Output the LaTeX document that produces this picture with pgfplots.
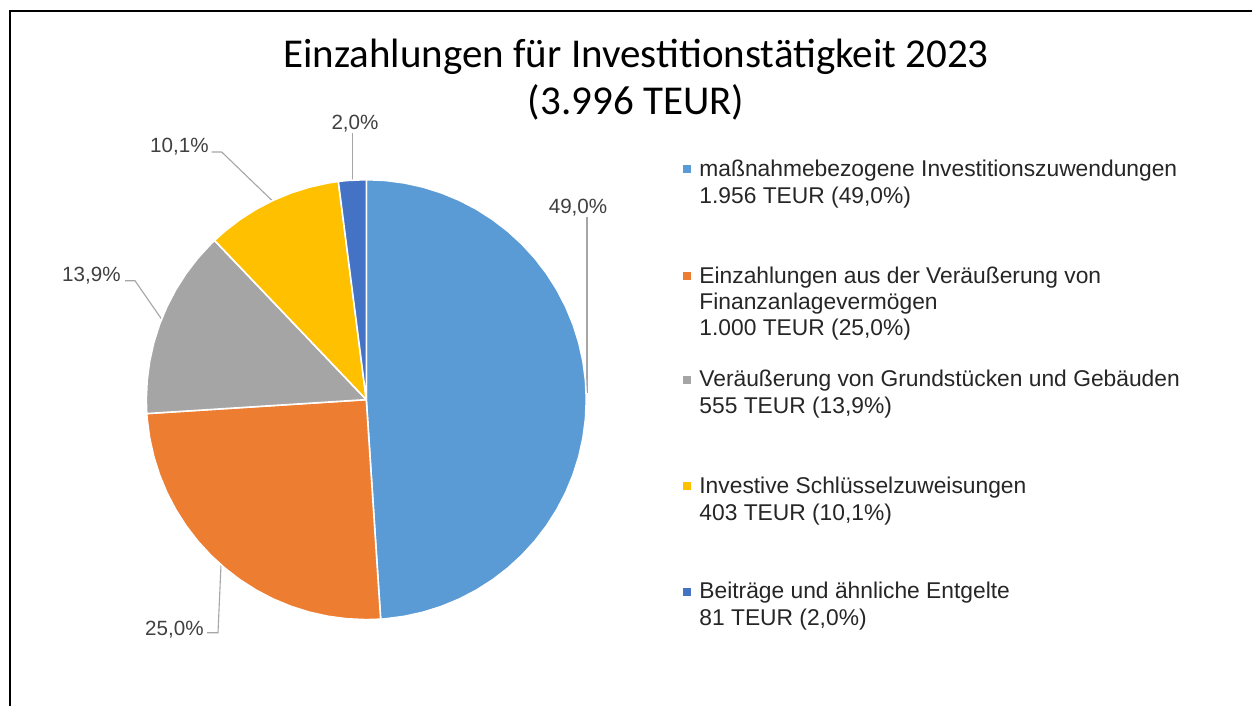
\documentclass[border=0pt]{standalone}
\usepackage{fontspec}
\setmainfont{Liberation Sans}
\newfontfamily\titlefont{Carlito}
\usepackage{pgfplots}
\pgfplotsset{compat=1.18}
\usepgfplotslibrary{polar}

\definecolor{cBlue}{HTML}{5B9BD5}
\definecolor{cOrange}{HTML}{ED7D31}
\definecolor{cGray}{HTML}{A5A5A5}
\definecolor{cYellow}{HTML}{FFC000}
\definecolor{cDark}{HTML}{4472C4}
\definecolor{cLabel}{HTML}{404040}
\definecolor{cLegend}{HTML}{262626}
\definecolor{cLeader}{HTML}{A6A6A6}

\newcommand\lblfont{\fontsize{10.3}{12}\selectfont}
\newcommand\legfont{\fontsize{11.4}{13}\selectfont}

\begin{document}
\begin{tikzpicture}[x=1pt,y=1pt]
\useasboundingbox (0,0) rectangle (626,353);
\fill[white] (0,0) rectangle (626,353);

% frame axis in pixel units (origin top left)
\begin{axis}[at={(0,0)}, anchor=south west, scale only axis,
  width=626pt, height=353pt,
  xmin=0, xmax=1252, ymin=0, ymax=706, y dir=reverse,
  hide axis, clip=false]

\draw[black, line width=0.85pt] (axis cs:10,706) -- (axis cs:10,11) -- (axis cs:1252,11);

% title
\node[anchor=base, font=\titlefont\fontsize{20.5}{24}\selectfont] at (axis cs:636,68) {Einzahlungen für Investitionstätigkeit 2023};
\node[anchor=base, font=\titlefont\fontsize{20.5}{24}\selectfont] at (axis cs:636,115) {(3.996 TEUR)};

% leader lines
\addplot[cLeader, line width=0.55pt] coordinates {(352.3,133) (352.3,181.7)};
\addplot[cLeader, line width=0.55pt] coordinates {(211.7,152) (221.7,152) (273.3,201.7)};
\addplot[cLeader, line width=0.55pt] coordinates {(125,280.7) (135,280.7) (161.7,319.3)};
\addplot[cLeader, line width=0.55pt] coordinates {(207,632.7) (218,632.7) (221,565)};
\addplot[cLeader, line width=0.55pt] coordinates {(587,217) (587,393)};

% data labels
\node[anchor=base, text=cLabel, font=\lblfont] at (axis cs:355,129.3) {2,0\%};
\node[anchor=base east, text=cLabel, font=\lblfont, inner sep=0pt] at (axis cs:209,152.3) {10,1\%};
\node[anchor=base east, text=cLabel, font=\lblfont, inner sep=0pt] at (axis cs:121,281.7) {13,9\%};
\node[anchor=base east, text=cLabel, font=\lblfont, inner sep=0pt] at (axis cs:204,635) {25,0\%};
\node[anchor=base, text=cLabel, font=\lblfont] at (axis cs:578,213) {49,0\%};

% legend
\addplot[only marks, mark=square*, mark size=1.75pt, color=cBlue] coordinates {(687,169)};
\addplot[only marks, mark=square*, mark size=1.75pt, color=cOrange] coordinates {(687,275.5)};
\addplot[only marks, mark=square*, mark size=1.75pt, color=cGray] coordinates {(687,380)};
\addplot[only marks, mark=square*, mark size=1.75pt, color=cYellow] coordinates {(687,486)};
\addplot[only marks, mark=square*, mark size=1.75pt, color=cDark] coordinates {(687,592)};

\tikzset{leg/.style={anchor=base west, inner sep=0pt, text=cLegend, font=\legfont}}
\node[leg] at (axis cs:699,176.7) {maßnahmebezogene Investitionszuwendungen};
\node[leg] at (axis cs:699,203.3) {1.956 TEUR (49,0\%)};
\node[leg] at (axis cs:699,283.3) {Einzahlungen aus der Veräußerung von};
\node[leg] at (axis cs:699,309.3) {Finanzanlagevermögen};
\node[leg] at (axis cs:699,335.3) {1.000 TEUR (25,0\%)};
\node[leg] at (axis cs:699,386.7) {Veräußerung von Grundstücken und Gebäuden};
\node[leg] at (axis cs:699,413.3) {555 TEUR (13,9\%)};
\node[leg] at (axis cs:699,493.3) {Investive Schlüsselzuweisungen};
\node[leg] at (axis cs:699,520) {403 TEUR (10,1\%)};
\node[leg] at (axis cs:699,598.3) {Beiträge und ähnliche Entgelte};
\node[leg] at (axis cs:699,625) {81 TEUR (2,0\%)};
\end{axis}

% pie: 1956, 1000, 555, 403, 81 TEUR, clockwise from 12 o'clock
% (anchor offset of the hidden polar axis corrected by hand)
\begin{polaraxis}[at={(166.5,139.25)}, anchor=center, scale only axis,
  width=220pt, height=220pt,
  xmin=0, xmax=360, ymin=0, ymax=1,
  hide axis, clip=false]
\tikzset{sector/.style={draw=white, line width=0.8pt, line join=round}}
\addplot[sector, fill=cBlue] coordinates {(0,0) (90,1) (85,1) (80,1) (75,1) (70,1) (65,1) (60,1) (55,1) (50,1) (45,1) (40,1) (35,1) (30,1) (25,1) (20,1) (15,1) (10,1) (5,1) (0,1) (355,1) (350,1) (345,1) (340,1) (335,1) (330,1) (325,1) (320,1) (315,1) (310,1) (305,1) (300,1) (295,1) (290,1) (285,1) (280,1) (275,1) (273.74,1) (0,0)};
\addplot[sector, fill=cOrange] coordinates {(0,0) (273.74,1) (270,1) (265,1) (260,1) (255,1) (250,1) (245,1) (240,1) (235,1) (230,1) (225,1) (220,1) (215,1) (210,1) (205,1) (200,1) (195,1) (190,1) (185,1) (183.63,1) (0,0)};
\addplot[sector, fill=cGray] coordinates {(0,0) (183.63,1) (180,1) (175,1) (170,1) (165,1) (160,1) (155,1) (150,1) (145,1) (140,1) (135,1) (133.62,1) (0,0)};
\addplot[sector, fill=cYellow] coordinates {(0,0) (133.62,1) (130,1) (125,1) (120,1) (115,1) (110,1) (105,1) (100,1) (97.30,1) (0,0)};
\addplot[sector, fill=cDark] coordinates {(0,0) (97.30,1) (95,1) (90,1) (0,0)};
\end{polaraxis}
\end{tikzpicture}
\end{document}
